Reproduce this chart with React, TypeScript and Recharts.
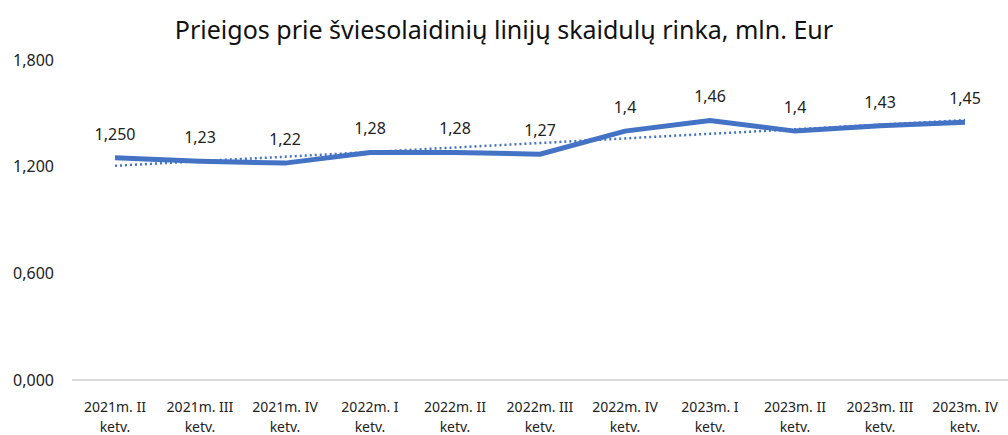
import React from "react";
import { LineChart, Line, XAxis, YAxis, LabelList } from "recharts";

const quarters = [
  "2021m. II ketv.",
  "2021m. III ketv.",
  "2021m. IV ketv.",
  "2022m. I ketv.",
  "2022m. II ketv.",
  "2022m. III ketv.",
  "2022m. IV ketv.",
  "2023m. I ketv.",
  "2023m. II ketv.",
  "2023m. III ketv.",
  "2023m. IV ketv.",
];
const market = [1.25, 1.23, 1.22, 1.28, 1.28, 1.27, 1.4, 1.46, 1.4, 1.43, 1.45];
const valueLabels = ["1,250", "1,23", "1,22", "1,28", "1,28", "1,27", "1,4", "1,46", "1,4", "1,43", "1,45"];
// dotted trend line
const trend = [1.205, 1.231, 1.256, 1.282, 1.308, 1.333, 1.359, 1.385, 1.41, 1.436, 1.462];
const yTicks = [0, 0.6, 1.2, 1.8];

const data = quarters.map((q, i) => ({
  q,
  value: market[i],
  label: valueLabels[i],
  trend: trend[i],
}));

const FONT = "'Noto Sans', 'Open Sans', sans-serif";

const QuarterTick = (props: any) => {
  const { x, y, payload } = props;
  const a = String(payload.value).replace(" ketv.", "");
  return (
    <g>
      <text x={x} y={y + 24} textAnchor="middle" fill="#222" fontSize={14} fontFamily={FONT}>
        {a}
      </text>
      <text x={x} y={y + 43.5} textAnchor="middle" fill="#222" fontSize={14} fontFamily={FONT}>
        ketv.
      </text>
    </g>
  );
};

export default function App() {
  return (
    <div style={{ position: "absolute", top: 0, left: 0, width: 1008, height: 450, background: "#fff" }}>
      <div
        style={{
          position: "absolute",
          top: 12,
          left: 0,
          width: 1008,
          textAlign: "center",
          fontFamily: FONT,
          fontSize: 25,
          lineHeight: "34px",
          color: "#111",
        }}
      >
        Prieigos prie šviesolaidinių linijų skaidulų rinka, mln. Eur
      </div>
      <LineChart width={1008} height={450} data={data} margin={{ top: 60, right: 0, bottom: 15, left: 0 }}>
        <XAxis
          dataKey="q"
          interval={0}
          tick={<QuarterTick />}
          tickLine={false}
          axisLine={{ stroke: "#d0d0d0", strokeWidth: 1.5 }}
          padding={{ left: 43, right: 43 }}
          height={55}
        />
        <YAxis
          domain={[0, 1.8]}
          ticks={yTicks}
          width={72}
          axisLine={false}
          tickLine={false}
          tickFormatter={(v: number) => v.toFixed(3).replace(".", ",")}
          tick={{ fill: "#222", fontSize: 16, fontFamily: FONT, dx: -10 }}
        />
        <Line
          dataKey="trend"
          stroke="#4472C4"
          strokeWidth={2.5}
          strokeDasharray="2 3"
          dot={false}
          isAnimationActive={false}
        />
        <Line
          dataKey="value"
          stroke="#4472C4"
          strokeWidth={5}
          dot={false}
          isAnimationActive={false}
        >
          <LabelList
            dataKey="label"
            position="top"
            offset={18}
            fill="#222"
            fontSize={16}
            fontFamily={FONT}
          />
        </Line>
      </LineChart>
    </div>
  );
}
